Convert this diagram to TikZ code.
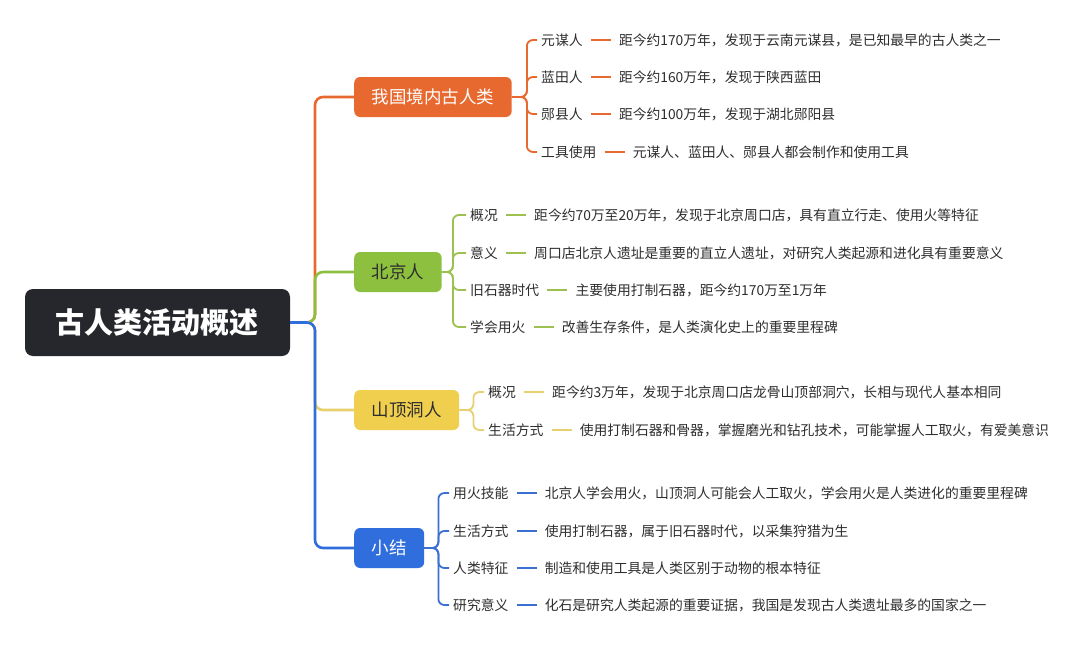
\documentclass[tikz,border=0pt]{standalone}
\usepackage{fontspec}
\setmainfont{Noto Sans CJK SC}
\newfontfamily\cjk{Noto Sans CJK SC}
\usetikzlibrary{positioning}
\definecolor{corange}{HTML}{E8692F}
\definecolor{cgreen}{HTML}{8DC03F}
\definecolor{cyellow}{HTML}{F1CF4E}
\definecolor{cblue}{HTML}{2F6EDC}
\definecolor{lgreen}{HTML}{9CC150}
\definecolor{lyellow}{HTML}{E9D06E}
\definecolor{lblue}{HTML}{3C6FD2}
\definecolor{rootbg}{HTML}{25272C}
\definecolor{txt}{HTML}{2E2E2E}
\begin{document}
\begin{tikzpicture}[x=1pt,y=-1pt,
  rootbox/.style={fill=rootbg, text=white, rounded corners=8pt, minimum width=265pt, minimum height=67pt, font=\cjk\bfseries\fontsize{29}{32}\selectfont},
  branch/.style={anchor=west, rounded corners=6pt, minimum height=40pt, inner xsep=17.5pt, inner ysep=0pt, font=\cjk\fontsize{17.5}{20}\selectfont},
  lab/.style={anchor=west, inner sep=0pt, text=txt, text height=12.1pt, text depth=1.6pt, font=\cjk\fontsize{13.8}{16}\selectfont},
  desc/.style={lab, right=36pt of #1},
  dashline/.style={line width=1.8pt, shorten <=8pt, shorten >=8pt},
  trunk/.style={line width=2.6pt, rounded corners=8pt},
  kid/.style={line width=1.8pt, rounded corners=6pt, shorten >=4pt}
]
\useasboundingbox (0,0) rectangle (1080,645);
\fill[white] (0,0) rectangle (1080,645);

% root and branches
\node[rootbox] (root) at (157.5,322.5) {古人类活动概述};
\node[branch, fill=corange, text=white] (b1) at (354,97) {我国境内古人类};
\node[branch, fill=cgreen, text=txt] (b2) at (354,272) {北京人};
\node[branch, fill=cyellow, text=txt] (b3) at (354,410) {山顶洞人};
\node[branch, fill=cblue, text=white] (b4) at (354,548) {小结};

\draw[trunk, corange] (root.east) -- (315,322.5) |- (b1.west);
\draw[trunk, cgreen] (root.east) -- (315,322.5) |- (b2.west);
\draw[trunk, lyellow] (root.east) -- (315,322.5) |- (b3.west);
\draw[trunk, cblue] (root.east) -- (315,322.5) |- (b4.west);

% orange group
\node[lab] (o1) at (541,40) {元谋人};
\node[desc=o1] (od1) {距今约170万年，发现于云南元谋县，是已知最早的古人类之一};
\node[lab] (o2) at (541,77) {蓝田人};
\node[desc=o2] (od2) {距今约160万年，发现于陕西蓝田};
\node[lab] (o3) at (541,114) {郧县人};
\node[desc=o3] (od3) {距今约100万年，发现于湖北郧阳县};
\node[lab] (o4) at (541,152) {工具使用};
\node[desc=o4] (od4) {元谋人、蓝田人、郧县人都会制作和使用工具};
\foreach \i in {1,...,4}{
  \draw[kid, corange] (b1.east) -- ++(15,0) |- (o\i.west);
  \draw[dashline, corange] (o\i.east) -- (od\i.west);
}

% green group
\node[lab] (g1) at (470,215) {概况};
\node[desc=g1] (gd1) {距今约70万至20万年，发现于北京周口店，具有直立行走、使用火等特征};
\node[lab] (g2) at (470,253) {意义};
\node[desc=g2] (gd2) {周口店北京人遗址是重要的直立人遗址，对研究人类起源和进化具有重要意义};
\node[lab] (g3) at (470,290) {旧石器时代};
\node[desc=g3] (gd3) {主要使用打制石器，距今约170万至1万年};
\node[lab] (g4) at (470,327) {学会用火};
\node[desc=g4] (gd4) {改善生存条件，是人类演化史上的重要里程碑};
\foreach \i in {1,...,4}{
  \draw[kid, lgreen] (b2.east) -- ++(11,0) |- (g\i.west);
  \draw[dashline, lgreen] (g\i.east) -- (gd\i.west);
}

% yellow group
\node[lab] (y1) at (488,392) {概况};
\node[desc=y1] (yd1) {距今约3万年，发现于北京周口店龙骨山顶部洞穴，长相与现代人基本相同};
\node[lab] (y2) at (488,430) {生活方式};
\node[desc=y2] (yd2) {使用打制石器和骨器，掌握磨光和钻孔技术，可能掌握人工取火，有爱美意识};
\foreach \i in {1,2}{
  \draw[kid, lyellow] (b3.east) -- ++(14,0) |- (y\i.west);
  \draw[dashline, lyellow] (y\i.east) -- (yd\i.west);
}

% blue group
\node[lab] (s1) at (453,493) {用火技能};
\node[desc=s1] (sd1) {北京人学会用火，山顶洞人可能会人工取火，学会用火是人类进化的重要里程碑};
\node[lab] (s2) at (453,531) {生活方式};
\node[desc=s2] (sd2) {使用打制石器，属于旧石器时代，以采集狩猎为生};
\node[lab] (s3) at (453,568) {人类特征};
\node[desc=s3] (sd3) {制造和使用工具是人类区别于动物的根本特征};
\node[lab] (s4) at (453,605) {研究意义};
\node[desc=s4] (sd4) {化石是研究人类起源的重要证据，我国是发现古人类遗址最多的国家之一};
\foreach \i in {1,...,4}{
  \draw[kid, lblue] (b4.east) -- ++(14,0) |- (s\i.west);
  \draw[dashline, lblue] (s\i.east) -- (sd\i.west);
}
\end{tikzpicture}
\end{document}
